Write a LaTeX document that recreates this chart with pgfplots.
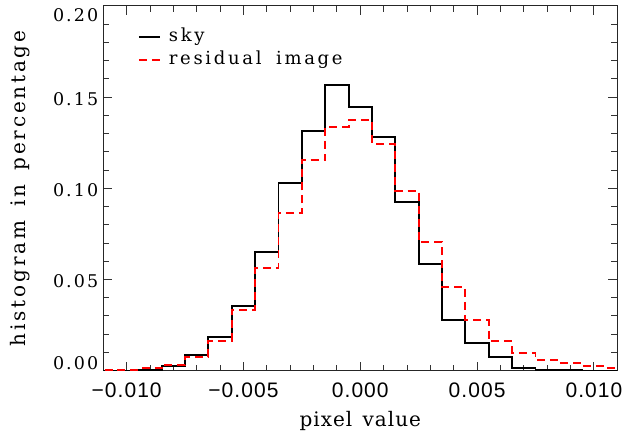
\documentclass[border=0pt]{standalone}
\usepackage{pgfplots}
\pgfplotsset{compat=1.18}
\usepackage{pgfplotstable}
\usepackage{fontspec}
\setmainfont{DejaVu Serif}
\newfontfamily\legfont[LetterSpace=15]{DejaVu Serif}
\newfontfamily\ylabfont[LetterSpace=14]{DejaVu Serif}
\newfontfamily\xlabfont[LetterSpace=5]{DejaVu Serif}
\newfontfamily\ytickfont[LetterSpace=12]{DejaVu Serif}
\newfontfamily\xtickfont[LetterSpace=5]{Liberation Sans}

% bin left edge, value (bins of width 0.001 centred on multiples of 0.001)
\pgfplotstableread{
x y
-0.0115 0.0000
-0.0105 0.0000
-0.0095 0.0004
-0.0085 0.0025
-0.0075 0.0088
-0.0065 0.0185
-0.0055 0.0353
-0.0045 0.0651
-0.0035 0.1029
-0.0025 0.1315
-0.0015 0.1567
-0.0005 0.1444
0.0005 0.1282
0.0015 0.0923
0.0025 0.0583
0.0035 0.0280
0.0045 0.0154
0.0055 0.0073
0.0065 0.0013
0.0075 0.0006
0.0085 0.0003
0.0095 0.0001
0.0105 0.0000
0.0115 0.0000
}\skytable

\pgfplotstableread{
x y
-0.0115 0.0003
-0.0105 0.0005
-0.0095 0.0013
-0.0085 0.0033
-0.0075 0.0077
-0.0065 0.0163
-0.0055 0.0333
-0.0045 0.0561
-0.0035 0.0863
-0.0025 0.1155
-0.0015 0.1338
-0.0005 0.1375
0.0005 0.1241
0.0015 0.0987
0.0025 0.0704
0.0035 0.0459
0.0045 0.0276
0.0055 0.0161
0.0065 0.0099
0.0075 0.0059
0.0085 0.0041
0.0095 0.0026
0.0105 0.0013
0.0115 0.0013
}\restable

\begin{document}
\begin{tikzpicture}
\useasboundingbox (-103.3bp,-63.3bp) rectangle (540.7bp,370.7bp);
\begin{axis}[
  at={(0,0)}, anchor=south west,
  width=514bp, height=364.7bp, scale only axis,
  xmin=-0.011, xmax=0.011, ymin=0, ymax=0.2,
  scaled x ticks=false, scaled y ticks=false,
  xtick={-0.01,-0.005,0,0.005,0.01},
  xticklabels={−0.010,−0.005,0.000,0.005,0.010},
  ytick={0,0.05,0.1,0.15,0.2},
  yticklabels={\raisebox{9.7bp}[\height][\depth]{0.00},0.05,0.10,0.15,\raisebox{-7bp}[\height][\depth]{0.20}},
  minor x tick num=4, minor y tick num=4,
  xtick pos=both, ytick pos=both,
  xticklabel pos=lower, yticklabel pos=left,
  tick align=inside,
  major tick length=9bp, minor tick length=6bp,
  axis line style={line width=1bp, black!85},
  every tick/.style={line width=1bp, black!80},
  xticklabel style={font=\xtickfont\fontsize{21bp}{24bp}\selectfont, yshift=-9bp},
  yticklabel style={font=\ytickfont\fontsize{17.5bp}{20bp}\selectfont, yshift=-2bp, xshift=-1.5bp},
  xlabel={pixel\hspace{3bp} value},
  ylabel={histogram\hspace{5bp} in\hspace{5bp} percentage},
  xlabel style={font=\xlabfont\fontsize{20bp}{24bp}\selectfont, at={(axis description cs:0.5,-0.1536)}, anchor=base},
  ylabel style={font=\ylabfont\fontsize{20bp}{24bp}\selectfont, at={(axis description cs:-0.1504,0.5)}, anchor=base, rotate=0},
  legend image code/.code={\draw[#1] (0bp,0bp) -- (21bp,0bp);},
  legend cell align=left,
  legend style={draw=none, fill=none, at={(axis description cs:0.0675,0.9397)}, anchor=north west,
    inner sep=0pt, outer sep=0pt, row sep=5bp, column sep=8bp,
    font=\legfont\fontsize{18bp}{20bp}\selectfont,
    nodes={inner sep=0pt, text height=13.7bp, text depth=4.2bp}},
]
\addplot[const plot mark left, black, line width=1.9bp] table[x=x,y=y] {\skytable};
\addlegendentry{sky}
\addplot[const plot mark left, red, line width=1.9bp, dash pattern=on 8bp off 5bp] table[x=x,y=y] {\restable};
\addlegendentry{residual\hspace{6bp} image}
\end{axis}
\end{tikzpicture}
\end{document}
